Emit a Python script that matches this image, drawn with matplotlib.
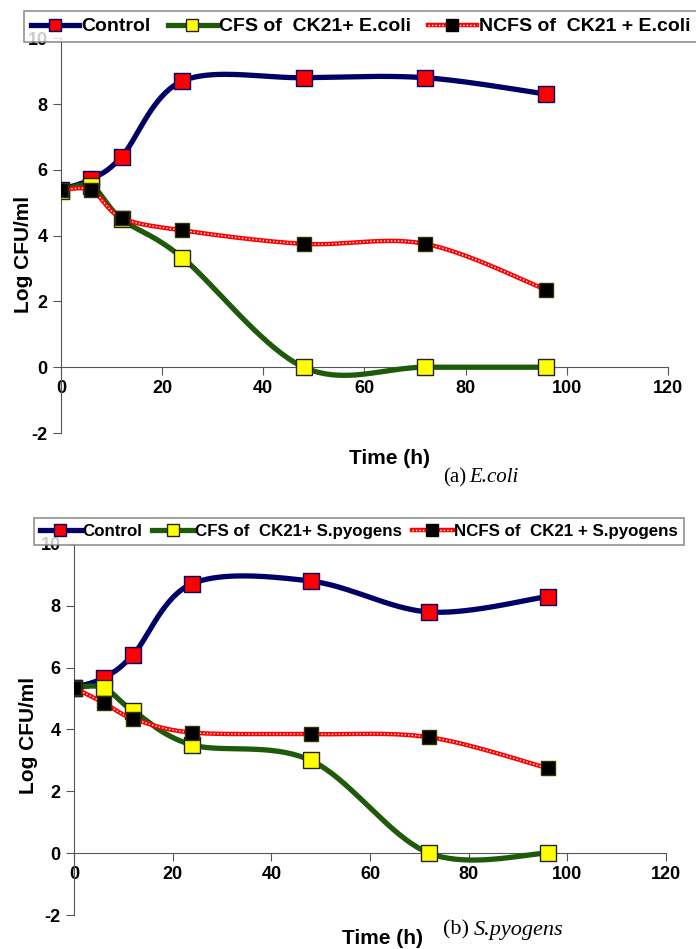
import numpy as np
import matplotlib.pyplot as plt
from matplotlib.lines import Line2D
from matplotlib.legend_handler import HandlerTuple

plt.rcParams['font.family'] = ['Liberation Sans', 'DejaVu Sans']
plt.rcParams['axes.unicode_minus'] = False

time_h = [0, 6, 12, 24, 48, 72, 96]

ecoli_control = [5.4, 5.72, 6.4, 8.7, 8.8, 8.8, 8.3]
ecoli_cfs = [5.35, 5.5, 4.5, 3.33, 0.0, 0.0, 0.0]
ecoli_ncfs = [5.38, 5.38, 4.54, 4.16, 3.75, 3.75, 2.35]

spy_control = [5.35, 5.67, 6.42, 8.72, 8.8, 7.8, 8.3]
spy_cfs = [5.35, 5.35, 4.6, 3.5, 3.0, 0.0, 0.0]
spy_ncfs = [5.35, 4.87, 4.35, 3.9, 3.85, 3.75, 2.75]

yticks = [-2, 0, 2, 4, 6, 8, 10]
xticks = [0, 20, 40, 60, 80, 100, 120]

NAVY = '#000066'
GREEN = '#1e5a0a'
RED = '#ff0000'


def smooth(x, y, n=40):
    # Excel-style smoothed line: cubic Bezier through points
    p = np.column_stack([x, y]).astype(float)
    pts = []
    for i in range(len(p) - 1):
        p0 = p[i - 1] if i > 0 else p[i]
        p1, p2 = p[i], p[i + 1]
        p3 = p[i + 2] if i + 2 < len(p) else p[i + 1]
        c1 = p1 + (p2 - p0) / 6
        c2 = p2 - (p3 - p1) / 6
        t = np.linspace(0, 1, n)[:, None]
        seg = (1 - t) ** 3 * p1 + 3 * (1 - t) ** 2 * t * c1 + 3 * (1 - t) * t ** 2 * c2 + t ** 3 * p2
        pts.append(seg if i == 0 else seg[1:])
    s = np.vstack(pts)
    return s[:, 0], s[:, 1]


def panel(ax, control, cfs, ncfs, label_xy):
    sx, sy = smooth(time_h, control)
    ax.plot(sx, sy, color=NAVY, lw=3.8, zorder=2, solid_capstyle='round')
    ax.plot(time_h, control, ls='none', marker='s', ms=12, mfc=RED, mec=NAVY, mew=1, zorder=3)
    sx, sy = smooth(time_h, cfs)
    ax.plot(sx, sy, color=GREEN, lw=3.8, zorder=4, solid_capstyle='round')
    ax.plot(time_h, cfs, ls='none', marker='s', ms=12, mfc='#ffff00', mec='#222222', mew=1, zorder=5)
    sx, sy = smooth(time_h, ncfs)
    ax.plot(sx, sy, color=RED, lw=3.2, zorder=6)
    ax.plot(sx, sy, color='white', lw=1.0, ls=(0, (1, 1.5)), zorder=6)
    ax.plot(time_h, ncfs, ls='none', marker='s', ms=10, mfc='black', mec='#333300', mew=1, zorder=7)

    ax.set_xlim(0, 120)
    ax.set_ylim(-2, 10)
    ax.set_xticks(xticks)
    ax.set_yticks(yticks)
    ax.spines['top'].set_visible(False)
    ax.spines['right'].set_visible(False)
    ax.spines['bottom'].set_position(('data', 0))
    ax.spines['left'].set_color('#555555')
    ax.spines['bottom'].set_color('#555555')
    ax.tick_params(direction='out', length=6, color='#555555', labelsize=13)
    for lab in ax.get_xticklabels() + ax.get_yticklabels():
        lab.set_fontweight('bold')
    ax.set_ylabel('Log CFU/ml', fontsize=15, fontweight='bold')
    ax.yaxis.set_label_coords(*label_xy)


def legend(fig, bbox, names, size, hlen, colsp):
    h1 = (Line2D([], [], color=NAVY, lw=3.8),
          Line2D([], [], ls='none', marker='s', ms=9, mfc=RED, mec=NAVY))
    h2 = (Line2D([], [], color=GREEN, lw=3.8),
          Line2D([], [], ls='none', marker='s', ms=9, mfc='#ffff00', mec='#222222'))
    h3 = (Line2D([], [], color=RED, lw=3.2),
          Line2D([], [], color='white', lw=1.0, ls=(0, (1, 1.5))),
          Line2D([], [], ls='none', marker='s', ms=8, mfc='black', mec='black'))
    leg = fig.legend([h1, h2, h3], names, loc='upper left', bbox_to_anchor=bbox, ncol=3,
                     handler_map={tuple: HandlerTuple(ndivide=1, pad=0)},
                     prop={'weight': 'bold', 'size': size}, frameon=True, fancybox=False,
                     handlelength=hlen, handletextpad=0.1, columnspacing=colsp,
                     borderpad=0.35, borderaxespad=0)
    leg.get_frame().set_edgecolor('#777777')
    leg.get_frame().set_linewidth(1.2)
    leg.set_zorder(10)


fig = plt.figure(figsize=(6.96, 9.49), dpi=100)
ax1 = fig.add_axes([0.0876, 0.5437, 0.872, 0.416])
ax2 = fig.add_axes([0.1063, 0.0358, 0.8506, 0.391])

panel(ax1, ecoli_control, ecoli_cfs, ecoli_ncfs, (-0.046, 0.453))
panel(ax2, spy_control, spy_cfs, spy_ncfs, (-0.061, 0.485))

fig.text(390 / 696, 1 - 459 / 949, 'Time (h)', ha='center', va='center', fontsize=15, fontweight='bold')
fig.text(382 / 696, 1 - 939 / 949, 'Time (h)', ha='center', va='center', fontsize=15, fontweight='bold')
fig.text(443 / 696, 1 - 478 / 949, '(a)', ha='left', va='center', fontsize=15, family='Liberation Serif')
fig.text(469 / 696, 1 - 478 / 949, 'E.coli', ha='left', va='center', fontsize=15, family='Liberation Serif', style='italic')
fig.text(443 / 696, 1 - 930 / 949, '(b)', ha='left', va='center', fontsize=16, family='Liberation Serif')
fig.text(474 / 696, 1 - 930 / 949, 'S.pyogens', ha='left', va='center', fontsize=16, family='Liberation Serif', style='italic')

legend(fig, (24 / 696, 1 - 11 / 949), ['Control', 'CFS of  CK21+ E.coli', 'NCFS of  CK21 + E.coli'], 14, 2.5, 0.9)
legend(fig, (34 / 696, 1 - 518 / 949), ['Control', 'CFS of  CK21+ S.pyogens', 'NCFS of  CK21 + S.pyogens'], 12.2, 2.4, 0.6)

fig.savefig('out.png', dpi=100)
